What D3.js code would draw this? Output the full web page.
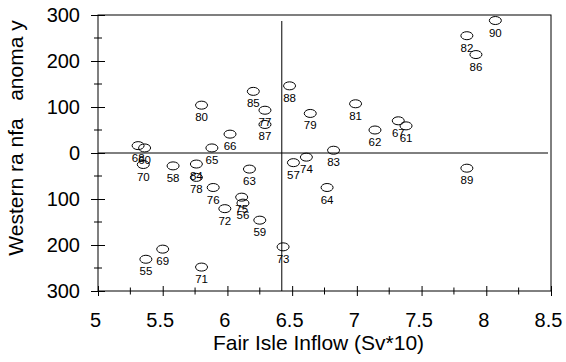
<!DOCTYPE html>
<meta charset="utf-8">
<script src="https://d3js.org/d3.v7.min.js"></script>
<style>
body { margin: 0; background: #fff; }
svg text { font-family: "Liberation Sans", Arial, sans-serif; fill: #000; }
.tick text { font-size: 20px; }
.ptLabel { font-size: 11.5px; }
.title { font-size: 21px; white-space: pre; }
</style>
<body></body>
<script>

// year labels, inflow (Sv*10), rainfall anomaly
var years = ["55","56","57","58","59","60","61","62","63","64","65","66","67","68","69","70","71","72",
             "73","74","75","76","77","78","79","80","81","82","83","84","85","86","87","88","89","90"];
var inflow = [5.37, 6.12, 6.51, 5.58, 6.25, 5.36, 7.38, 7.14, 6.17, 6.77, 5.88, 6.02, 7.32, 5.31, 5.50, 5.35, 5.80, 5.98,
              6.43, 6.61, 6.11, 5.89, 6.29, 5.76, 6.64, 5.80, 6.99, 7.85, 6.82, 5.76, 6.20, 7.92, 6.29, 6.48, 7.85, 8.07];
var rain = [-231, -109, -21, -28, -146, 11, 59, 50, -35, -75, 11, 41, 70, 16, -209, -25, -248, -121,
            -204, -9, -96, -75, 93, -53, 86, 104, 107, 255, 6, -24, 134, 214, 62, 146, -33, 288];

var xTicks = [5, 5.5, 6, 6.5, 7, 7.5, 8, 8.5];
var yTicks = [300, 200, 100, 0, -100, -200, -300];
var yTickLabels = ["300", "200", "100", "0", "100", "200", "300"];
var meanInflow = 6.42;

var margin = {top: 15, right: 15, bottom: 71, left: 98};
var width = 566 - margin.left - margin.right;
var height = 362 - margin.top - margin.bottom;

var svg = d3.select("body").append("svg")
    .attr("width", 566)
    .attr("height", 362)
  .append("g")
    .attr("transform", "translate(" + margin.left + "," + margin.top + ")");

var x = d3.scaleLinear().domain([5, 8.5]).range([0, width]);
var y = d3.scaleLinear().domain([-300, 300]).range([height, 0]);

// frame
svg.append("rect")
  .attr("width", width).attr("height", height)
  .attr("fill", "none").attr("stroke", "#000");

// minor ticks
svg.selectAll(".xminor")
  .data(d3.range(5.25, 8.5, 0.5)).enter().append("line")
  .attr("x1", d => x(d)).attr("x2", d => x(d))
  .attr("y1", height - 3.5).attr("y2", height + 3.5)
  .attr("stroke", "#000");

svg.selectAll(".yminor")
  .data(d3.range(-250, 300, 100)).enter().append("line")
  .attr("x1", -4).attr("x2", 4)
  .attr("y1", d => y(d)).attr("y2", d => y(d))
  .attr("stroke", "#000");

// axes
var xAxis = svg.append("g")
  .attr("transform", "translate(0," + height + ")")
  .call(d3.axisBottom(x).tickValues(xTicks).tickSize(5).tickPadding(17).tickFormat(d3.format("")));
xAxis.selectAll(".tick line").attr("y1", -5);
xAxis.selectAll(".tick text").attr("dx", -3);

var yAxis = svg.append("g")
  .call(d3.axisLeft(y).tickValues(yTicks).tickSize(7).tickPadding(11)
    .tickFormat((d, i) => yTickLabels[i]));
yAxis.selectAll(".tick line").attr("x1", 7);

svg.selectAll(".domain").remove();

// reference lines
svg.append("line")
  .attr("x1", 0).attr("x2", width - 3)
  .attr("y1", y(0)).attr("y2", y(0))
  .attr("stroke", "#000");

svg.append("line")
  .attr("x1", x(meanInflow)).attr("x2", x(meanInflow))
  .attr("y1", 6).attr("y2", height)
  .attr("stroke", "#000");

// points
var pts = svg.selectAll(".pt")
  .data(years).enter().append("g")
  .attr("transform", (d, i) => "translate(" + x(inflow[i]) + "," + y(rain[i]) + ")");

pts.append("ellipse")
  .attr("rx", 6).attr("ry", 4)
  .attr("fill", "none").attr("stroke", "#000").attr("stroke-width", 1);

pts.append("text")
  .attr("class", "ptLabel")
  .attr("text-anchor", "middle")
  .attr("y", 16)
  .text(d => d);

// titles
svg.append("text")
  .attr("class", "title")
  .attr("text-anchor", "middle")
  .attr("x", width / 2 - 6)
  .attr("y", height + 59)
  .text("Fair Isle Inflow (Sv*10)");

svg.append("text")
  .attr("class", "title")
  .attr("text-anchor", "middle")
  .attr("transform", "translate(-75," + (height / 2 - 15) + ") rotate(-90)")
  .text("Western ra nfa   anoma y");

</script>
